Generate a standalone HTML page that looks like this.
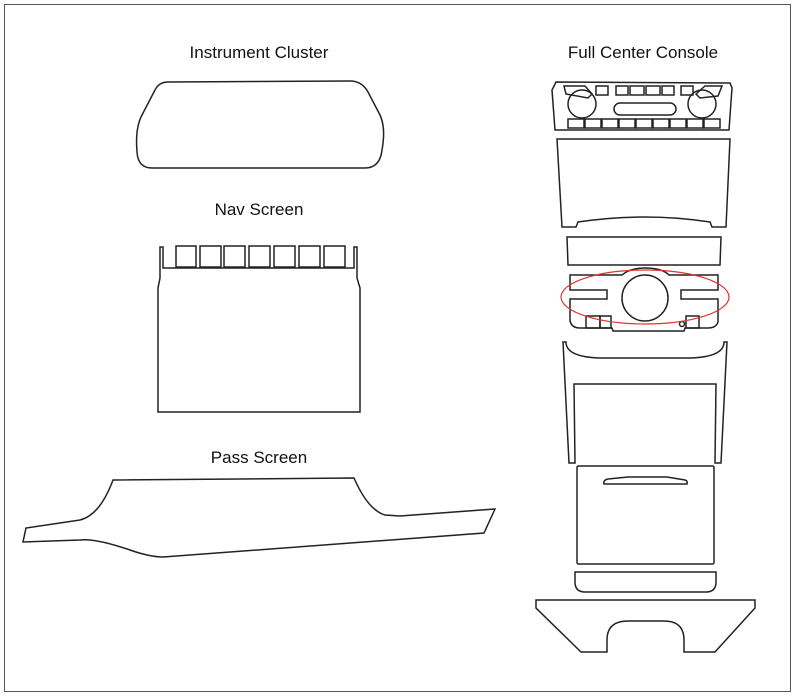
<!DOCTYPE html>
<html><head><style>
html,body{margin:0;padding:0;background:#fff}
svg{display:block}
text{font-family:"Liberation Sans",sans-serif;font-size:17px;fill:#111;text-anchor:middle}
</style></head><body>
<svg width="795" height="696" viewBox="0 0 795 696" xmlns="http://www.w3.org/2000/svg">
<rect x="4.5" y="4.5" width="786" height="687" fill="#fff" stroke="#555" stroke-width="1"/>
<g fill="none" stroke="#222" stroke-width="1.5">
<path d="M168 82 L350 81 Q362 81 368 92 L380 115 Q386 128 382 150 Q380 168 365 168 L152 168 Q138 168 137 152 Q135 128 142 115 L155 90 Q159 82 168 82 Z"/>
<path d="M160 247 L163 247 L163 268 L354 268 L354 247 L357 247 L357 278 L360 288 L360 412 L158 412 L158 288 L160 278 Z"/>
<g>
<rect x="176" y="246" width="20" height="21"/><rect x="200" y="246" width="21" height="21"/><rect x="224" y="246" width="21" height="21"/><rect x="249" y="246" width="21" height="21"/><rect x="274" y="246" width="21" height="21"/><rect x="299" y="246" width="21" height="21"/><rect x="324" y="246" width="21" height="21"/>
</g>
<path d="M113 480 L354 478 Q368 510 385 515 L400 516 L495 509 L484 533 L163 557 Q150 557 130 550 Q95 538 80 540 L23 542 L26 528 L80 520 Q100 515 113 480 Z"/>
<path d="M556 82 L730 83 L732 88 L729 130 L555 130 L552 90 Z"/>
<circle cx="582" cy="104" r="14"/><circle cx="702" cy="104" r="14"/>
<path d="M564 86 L585 86 L592 94 L588 98 L566 94 Z"/><path d="M705 86 L722 86 L718 96 L700 98 L696 94 Z"/>
<rect x="596" y="86" width="12" height="9"/><rect x="616" y="86" width="12" height="9"/><rect x="630" y="86" width="14" height="9"/><rect x="646" y="86" width="14" height="9"/><rect x="662" y="86" width="12" height="9"/><rect x="681" y="86" width="12" height="9"/>
<rect x="614" y="103" width="62" height="12" rx="6"/>
<g><rect x="568" y="119" width="16" height="9"/><rect x="585" y="119" width="16" height="9"/><rect x="602" y="119" width="16" height="9"/><rect x="619" y="119" width="16" height="9"/><rect x="636" y="119" width="16" height="9"/><rect x="653" y="119" width="16" height="9"/><rect x="670" y="119" width="16" height="9"/><rect x="687" y="119" width="16" height="9"/><rect x="704" y="119" width="16" height="9"/></g>
<path d="M557 139 L730 139 L726 227 L712 227 L710 222 Q645 212 578 222 L576 227 L562 227 Z"/>
<path d="M567 237 L721 237 L720 265 L568 265 Z"/>
<path d="M570 275 L622 275 Q630 268 645 268 Q662 268 669 275 L718 275 L718 290 L681 290 L681 299 L718 299 L718 322 Q716 328 708 328 L685 328 L684 331 L613 331 L612 328 L580 328 Q571 328 570 320 L570 299 L607 299 L607 290 L570 290 Z"/>
<circle cx="645" cy="298" r="23"/>
<rect x="586" y="316" width="14" height="12"/><rect x="600" y="316" width="11" height="12"/><rect x="686" y="316" width="13" height="12"/><circle cx="682" cy="324" r="2.5"/>
<path d="M563 342 L566 342 Q566 357 600 358 L690 358 Q724 357 724 342 L727 342 L721 463 L715 463 L716 384 L574 384 L575 463 L569 463 Z"/>
<rect x="577" y="466" width="137" height="98" rx="1.5"/>
<path d="M604 484 Q603 480 608 479 L628 477 L667 477 L685 480 Q688 481 687 484 Z"/>
<path d="M575 572 L716 572 L716 582 Q716 592 706 592 L585 592 Q575 592 575 582 Z"/>
<path d="M536 600 L755 600 L755 608 L715 652 L684 652 L684 640 Q684 621 664 621 L628 621 Q607 621 607 640 L607 652 L581 652 L536 608 Z"/>
</g>
<ellipse cx="645" cy="297" rx="84" ry="27" fill="none" stroke="#d33" stroke-width="1.2"/>
<text x="259" y="58">Instrument Cluster</text>
<text x="259" y="215">Nav Screen</text>
<text x="259" y="463">Pass Screen</text>
<text x="643" y="58">Full Center Console</text>
</svg>
</body></html>
